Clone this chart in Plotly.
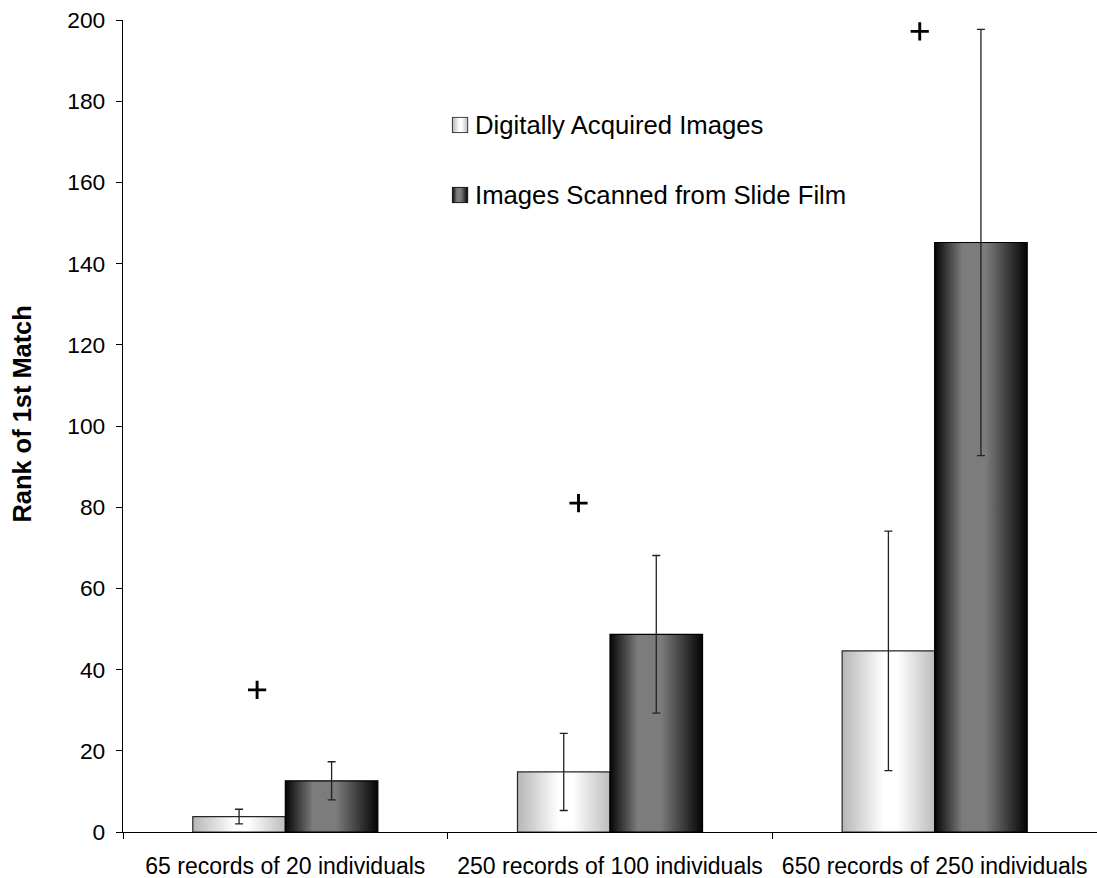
import base64
import plotly.graph_objects as go

# ---- data ----
categories = [
    "65 records of 20 individuals",
    "250 records of 100 individuals",
    "650 records of 250 individuals",
]
series_names = ["Digitally Acquired Images", "Images Scanned from Slide Film"]
digital_mean = [3.8, 14.8, 44.6]
digital_err = [1.8, 9.5, 29.5]
slide_mean = [12.6, 48.7, 145.2]
slide_err = [4.7, 19.4, 52.5]
plus_values = [35.0, 81.0, 197.2]
y_ticks = [0, 20, 40, 60, 80, 100, 120, 140, 160, 180, 200]

# ---- style ----
FONT = "Liberation Sans, Arial, sans-serif"
BAR_W = 0.285
LIGHT_SCALE = [[0, "#b6b6b6"], [0.45, "#ffffff"], [0.6, "#ffffff"], [1, "#bcbcbc"]]
DARK_SCALE = [[0, "#060606"], [0.3, "#7c7c7c"], [0.55, "#7c7c7c"], [1, "#040404"]]
plus_dx = [-0.087, -0.097, -0.046]

fig = go.Figure()


def add_bar(left, value, scale, edge):
    right = left + BAR_W
    fig.add_trace(go.Scatter(
        x=[left, left, right, right, left],
        y=[0, value, value, 0, 0],
        mode="lines",
        fill="toself",
        fillgradient=dict(type="horizontal", colorscale=scale),
        line=dict(color=edge, width=1.2),
        showlegend=False,
        hoverinfo="skip",
    ))


for i, (d, s) in enumerate(zip(digital_mean, slide_mean)):
    add_bar(i - BAR_W, d, LIGHT_SCALE, "#262626")
    add_bar(i, s, DARK_SCALE, "#000000")

# error bars at bar centres
for offset, means, errs in ((-BAR_W / 2, digital_mean, digital_err),
                            (BAR_W / 2, slide_mean, slide_err)):
    fig.add_trace(go.Scatter(
        x=[i + offset for i in range(len(categories))],
        y=means,
        mode="markers",
        marker=dict(size=1, opacity=0),
        error_y=dict(type="data", array=errs, visible=True,
                     thickness=1.3, width=4, color="#222222"),
        showlegend=False,
        hoverinfo="skip",
    ))

# significance markers
fig.add_trace(go.Scatter(
    x=[i + dx for i, dx in zip(range(len(categories)), plus_dx)],
    y=plus_values,
    mode="markers",
    marker=dict(symbol="cross-thin", size=13, line=dict(width=2.9, color="#000000")),
    showlegend=False,
    hoverinfo="skip",
    cliponaxis=False,
))


def swatch(stops, edge):
    stop_xml = "".join(
        f'<stop offset="{o}" stop-color="{c}"/>' for o, c in stops
    )
    svg = (
        '<svg xmlns="http://www.w3.org/2000/svg" width="17" height="17">'
        f'<defs><linearGradient id="g" x1="0" x2="1" y1="0" y2="0">{stop_xml}</linearGradient></defs>'
        f'<rect x="0.6" y="0.6" width="15.8" height="15.8" fill="url(#g)" stroke="{edge}" stroke-width="1.2"/>'
        '</svg>'
    )
    return "data:image/svg+xml;base64," + base64.b64encode(svg.encode()).decode()


legend_rows = [
    (series_names[0], LIGHT_SCALE, "#333333", 0.8707),
    (series_names[1], DARK_SCALE, "#111111", 0.7845),
]
images = []
annotations = []
for name, scale, edge, ypos in legend_rows:
    images.append(dict(
        source=swatch(scale, edge), xref="paper", yref="paper",
        x=0.3375, y=ypos, sizex=0.0171, sizey=0.0205,
        xanchor="left", yanchor="middle", sizing="stretch", layer="above",
    ))
    annotations.append(dict(
        text=name, xref="paper", yref="paper", x=0.3595, y=ypos,
        xanchor="left", yanchor="middle", showarrow=False,
        font=dict(family=FONT, size=25.7, color="#000000"),
    ))

annotations.append(dict(
    text="<b>Rank of 1st Match</b>", xref="paper", yref="paper",
    x=-0.104, y=0.515, xanchor="center", yanchor="middle", textangle=-90,
    showarrow=False, font=dict(family=FONT, size=25.4, color="#000000"),
))

fig.update_layout(
    width=1097, height=878,
    margin=dict(l=123, r=0, t=20, b=46),
    paper_bgcolor="white", plot_bgcolor="white",
    showlegend=False,
    images=images,
    annotations=annotations,
    xaxis=dict(
        range=[-0.5, 2.5],
        tickmode="array", tickvals=list(range(len(categories))), ticktext=categories,
        ticks="outside", ticklen=0, ticklabelstandoff=13,
        minor=dict(tickmode="array", tickvals=[-0.5, 0.5, 1.5, 2.5],
                   ticks="outside", ticklen=6, tickwidth=1.3, tickcolor="#000000"),
        showline=True, linecolor="#000000", linewidth=1.3,
        showgrid=False, zeroline=False,
        tickfont=dict(family=FONT, size=23, color="#000000"),
        fixedrange=True,
    ),
    yaxis=dict(
        range=[0, 200],
        tickmode="array", tickvals=y_ticks,
        ticks="outside", ticklen=6, tickwidth=1.3, tickcolor="#000000",
        ticklabelstandoff=6,
        showline=True, linecolor="#000000", linewidth=1.3,
        showgrid=False, zeroline=False,
        tickfont=dict(family=FONT, size=22.8, color="#000000"),
        fixedrange=True,
    ),
)

fig.write_html("out.html")
